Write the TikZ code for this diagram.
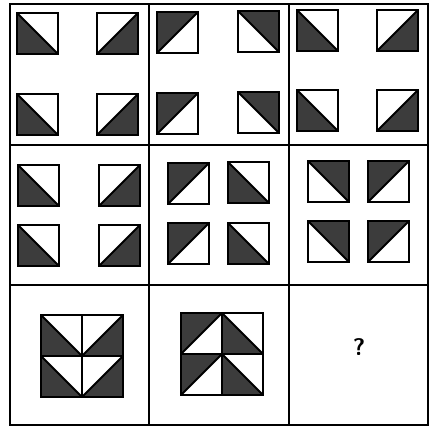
\documentclass[tikz,border=0pt]{standalone}
\usepackage{xcolor}
\usepackage{tikz}
\definecolor{scuro}{HTML}{3C3C3C}
\tikzset{
  griglia/.style={line width=0.8pt, color=black},
  bordo/.style={line width=1.1pt, color=black},
  triangolo/.style={fill=scuro, draw=black, line width=0.9pt, line join=round}
}
% tassello: x, y (angolo in alto a sinistra), tipo del triangolo scuro
% 1 = basso-sx, 2 = basso-dx, 3 = alto-sx, 4 = alto-dx
\newcommand{\tassello}[3]{%
  \ifcase#3\or
    \filldraw[triangolo] (#1,#2) -- (#1,#2+\s) -- (#1+\s,#2+\s) -- cycle;
  \or
    \filldraw[triangolo] (#1,#2+\s) -- (#1+\s,#2+\s) -- (#1+\s,#2) -- cycle;
  \or
    \filldraw[triangolo] (#1,#2) -- (#1+\s,#2) -- (#1,#2+\s) -- cycle;
  \or
    \filldraw[triangolo] (#1,#2) -- (#1+\s,#2) -- (#1+\s,#2+\s) -- cycle;
  \fi
  \draw[bordo] (#1,#2) rectangle (#1+\s,#2+\s);
}
\begin{document}
\begin{tikzpicture}[x=0.5pt, y=-0.5pt]
        \def\s{41} % lato tassello
        \useasboundingbox (0,0) rectangle (430,427);
        % Griglia 3x3
        \draw[griglia] (10,4) rectangle (428,425);
        \foreach \x in {149,289} {
                \draw[griglia] (\x,4) -- (\x,425);
            }
        \foreach \y in {145,285} {
                \draw[griglia] (10,\y) -- (428,\y);
            }
        % Prima riga
        \foreach \x/\y/\t in {17/13/1, 97/13/2, 17/94/1, 97/94/2,
                              157/12/3, 238/11/4, 157/93/3, 238/92/4,
                              297/10/1, 377/10/2, 297/90/1, 377/90/2} {
                \tassello{\x}{\y}{\t}
            }
        % Seconda riga
        \foreach \x/\y/\t in {18/165/1, 99/165/2, 18/225/1, 99/225/2,
                              168/163/3, 228/162/1, 168/223/3, 228/223/1,
                              308/161/4, 368/161/3, 308/221/4, 368/221/3} {
                \tassello{\x}{\y}{\t}
            }
        % Terza riga: quadrati composti
        \foreach \x/\y/\t in {41/315/1, 82/315/2, 41/356/1, 82/356/2,
                              181/313/3, 222/313/1, 181/354/3, 222/354/1} {
                \tassello{\x}{\y}{\t}
            }
        % Casella mancante
        \node (domanda) at (359,347) {\fontsize{12}{14}\selectfont\sffamily\bfseries ?};
    \end{tikzpicture}
\end{document}
